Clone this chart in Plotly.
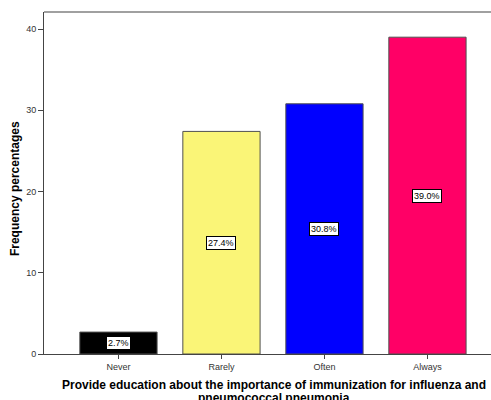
import plotly.graph_objects as go

# Response categories and their frequency percentages
categories = ["Never", "Rarely", "Often", "Always"]
percentages = [2.7, 27.4, 30.8, 39.0]
bar_colors = ["#000000", "#FAF577", "#0000FF", "#FF0066"]
y_ticks = [0, 10, 20, 30, 40]

x_title_lines = [
    "Provide education about the importance of immunization for influenza and",
    "pneumococcal pneumonia",
]
y_title = "Frequency percentages"

x_idx = list(range(len(categories)))
FONT = "Liberation Sans, Arial, sans-serif"

fig = go.Figure()
fig.add_trace(go.Bar(
    x=x_idx,
    y=percentages,
    width=0.75,
    marker=dict(color=bar_colors, line=dict(color="#505050", width=1)),
    hoverinfo="skip",
))

# Value labels in white boxes at the middle of each bar
for i, v in zip(x_idx, percentages):
    fig.add_annotation(
        x=i, y=v / 2, text=f"{v:.1f}%", showarrow=False,
        font=dict(family=FONT, size=9, color="#000000"),
        bgcolor="#FFFFFF", bordercolor="#000000", borderwidth=1, borderpad=1,
    )

# X axis title, one annotation per line for tight line spacing
for line, ypos in zip(x_title_lines, [-0.0906, -0.1287]):
    fig.add_annotation(
        xref="paper", yref="paper", x=0.5145, y=ypos,
        xanchor="center", yanchor="middle", showarrow=False,
        text=f"<b>{line}</b>",
        font=dict(family=FONT, size=12, color="#000000"),
    )

# Y axis title
fig.add_annotation(
    xref="paper", yref="paper", x=-0.065, y=0.485,
    xanchor="center", yanchor="middle", showarrow=False, textangle=-90,
    text=f"<b>{y_title}</b>",
    font=dict(family=FONT, size=12, color="#000000"),
)

fig.update_layout(
    width=491, height=400,
    margin=dict(l=44, r=0, t=12, b=46),
    paper_bgcolor="#FFFFFF", plot_bgcolor="#FFFFFF",
    showlegend=False,
    font=dict(family=FONT, color="#333333"),
    xaxis=dict(
        range=[-0.723, 3.617], automargin=False,
        tickvals=x_idx, ticktext=categories,
        ticks="outside", ticklen=4, tickcolor="#444444",
        tickfont=dict(size=9, color="#333333"),
        showline=True, linecolor="#444444", linewidth=1,
        showgrid=False, zeroline=False,
    ),
    yaxis=dict(
        range=[0, 42.1], automargin=False,
        tickvals=y_ticks,
        ticks="outside", ticklen=5, tickcolor="#444444",
        tickfont=dict(size=9, color="#333333"),
        showline=True, linecolor="#444444", linewidth=1,
        showgrid=False, zeroline=False,
    ),
)

# Top frame line
fig.add_shape(type="line", xref="paper", yref="paper", x0=0, x1=1, y0=1, y1=1,
              line=dict(color="#808080", width=1.5))

fig.write_html("out.html")
